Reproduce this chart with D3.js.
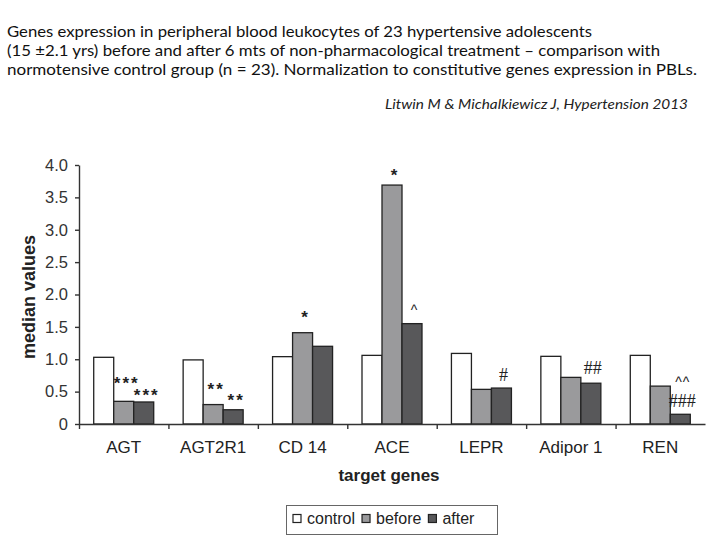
<!DOCTYPE html>
<html>
<head>
<meta charset="utf-8">
<script src="https://cdn.jsdelivr.net/npm/d3@7/dist/d3.min.js"></script>
<style>
  html, body { margin: 0; padding: 0; background: #fff; }
  svg { display: block; }
</style>
</head>
<body>
<svg id="chart" width="720" height="540"></svg>
<script>
// Gene expression medians
const genes = ['AGT', 'AGT2R1', 'CD 14', 'ACE', 'LEPR', 'Adipor 1', 'REN'];
const series = ['control', 'before', 'after'];
const control = [1.03, 0.99, 1.04, 1.06, 1.09, 1.045, 1.06];
const before = [0.35, 0.30, 1.41, 3.69, 0.535, 0.72, 0.585];
const after = [0.34, 0.22, 1.20, 1.55, 0.555, 0.63, 0.15];
const yTicks = [0, 0.5, 1.0, 1.5, 2.0, 2.5, 3.0, 3.5, 4.0];

// significance marks: gene, series, label, level (in chart units)
const marks = [
  ['AGT', 'before', '***', 0.69],
  ['AGT', 'after', '***', 0.51],
  ['AGT2R1', 'before', '**', 0.59],
  ['AGT2R1', 'after', '**', 0.42],
  ['CD 14', 'before', '*', 1.71],
  ['ACE', 'before', '*', 3.91],
  ['ACE', 'after', '^', 1.79],
  ['LEPR', 'after', '#', 0.76],
  ['Adipor 1', 'after', '##', 0.87],
  ['REN', 'after', '^^', 0.68],
  ['REN', 'after', '###', 0.35]
];

const titleLines = [
  'Genes expression in peripheral blood leukocytes of 23 hypertensive adolescents',
  '(15 \u00b12.1 yrs) before and after 6 mts of non-pharmacological treatment \u2013 comparison with',
  'normotensive control group (n = 23). Normalization to constitutive genes expression in PBLs.'
];
const citation = 'Litwin M & Michalkiewicz J, Hypertension 2013';

const rows = genes.map((g, i) => ({ gene: g, control: control[i], before: before[i], after: after[i] }));
const fills = { control: '#ffffff', before: '#9a9a9c', after: '#58585a' };

const svg = d3.select('#chart');

// Title block
const titleWidths = [585, 653, 690];
svg.append('g')
  .selectAll('text')
  .data(titleLines)
  .enter()
  .append('text')
  .attr('x', 7)
  .attr('y', (_, i) => 37 + i * 19)
  .attr('textLength', (_, i) => titleWidths[i])
  .attr('lengthAdjust', 'spacingAndGlyphs')
  .style('font-family', 'Lato, "Open Sans", sans-serif')
  .style('font-size', '16px')
  .style('fill', '#111')
  .text(d => d);

svg.append('text')
  .attr('x', 385)
  .attr('y', 109)
  .attr('textLength', 303)
  .attr('lengthAdjust', 'spacingAndGlyphs')
  .style('font-family', 'Lato, "Open Sans", sans-serif')
  .style('font-style', 'italic')
  .style('font-size', '14px')
  .style('fill', '#222')
  .text(citation);

// Scales
const plotLeft = 79, plotRight = 705, plotTop = 165, plotBottom = 424;
const x = d3.scaleBand().domain(genes).range([plotLeft, plotRight]);
const barW = 20;
const gap = (x.bandwidth() - barW * series.length) / 2;
const xSub = d3.scaleBand().domain(series).range([gap, x.bandwidth() - gap]);
const y = d3.scaleLinear().domain([0, 4]).range([plotBottom, plotTop]);
const xIdx = d3.scaleLinear().domain([0, genes.length]).range([plotLeft, plotRight]);

const font = '"Liberation Sans", Arial, sans-serif';

// Bars
const groups = svg.append('g')
  .selectAll('g')
  .data(rows)
  .enter()
  .append('g')
  .attr('transform', d => `translate(${x(d.gene)},0)`);

groups.selectAll('rect')
  .data(d => series.map(s => ({ key: s, value: d[s] })))
  .enter()
  .append('rect')
  .attr('x', d => xSub(d.key))
  .attr('y', d => y(d.value))
  .attr('width', xSub.bandwidth())
  .attr('height', d => plotBottom - y(d.value))
  .attr('fill', d => fills[d.key])
  .attr('stroke', '#222')
  .attr('stroke-width', 1.3);

// Axes
const yAxis = svg.append('g')
  .attr('transform', `translate(${plotLeft},0)`)
  .call(d3.axisLeft(y)
    .tickValues(yTicks)
    .tickSize(4)
    .tickSizeOuter(0)
    .tickFormat(d => d === 0 ? '0' : d3.format('.1f')(d)));
yAxis.selectAll('text')
  .attr('x', -11)
  .style('font-family', font)
  .style('font-size', '16.5px')
  .style('fill', '#333');

const xAxis = svg.append('g')
  .attr('transform', `translate(0,${plotBottom})`)
  .call(d3.axisBottom(xIdx)
    .tickValues(d3.range(genes.length))
    .tickSize(5)
    .tickSizeOuter(0)
    .tickFormat(''));

svg.selectAll('.domain, .tick line')
  .attr('stroke', '#333')
  .attr('stroke-width', 1.4);

// Category labels
svg.append('g')
  .selectAll('text')
  .data(genes)
  .enter()
  .append('text')
  .attr('x', d => x(d) + x.bandwidth() / 2)
  .attr('y', 453)
  .attr('text-anchor', 'middle')
  .style('font-family', font)
  .style('font-size', '17px')
  .style('fill', '#222')
  .text(d => d);

// Axis titles
svg.append('text')
  .attr('x', 389)
  .attr('y', 481)
  .attr('text-anchor', 'middle')
  .style('font-family', font)
  .style('font-weight', 'bold')
  .style('font-size', '17px')
  .style('fill', '#222')
  .text('target genes');

svg.append('text')
  .attr('transform', 'translate(35,297) rotate(-90)')
  .attr('text-anchor', 'middle')
  .style('font-family', font)
  .style('font-weight', 'bold')
  .style('font-size', '18px')
  .style('fill', '#222')
  .text('median values');

// Significance marks; baseline shifted so the glyph centre sits on the level
const markStyle = {
  '*': { size: 17, centre: 0.57, family: font, spacing: 2 },
  '^': { size: 14, centre: 0.52, family: font, spacing: 1 },
  '#': { size: 18, centre: 0.34, family: '"Liberation Serif", serif', spacing: 0 }
};
svg.append('g')
  .selectAll('text')
  .data(marks)
  .enter()
  .append('text')
  .each(function(d) {
    const st = markStyle[d[2][0]];
    d3.select(this)
      .attr('x', x(d[0]) + xSub(d[1]) + xSub.bandwidth() / 2 + 2 + st.spacing / 2)
      .attr('y', y(d[3]) + st.centre * st.size)
      .style('font-family', st.family)
      .style('font-size', st.size + 'px')
      .style('font-weight', d[2][0] === '*' ? 'bold' : 'normal')
      .style('letter-spacing', st.spacing + 'px');
  })
  .attr('text-anchor', 'middle')
  .style('fill', '#222')
  .text(d => d[2]);

// Legend
const legend = svg.append('g');
legend.append('rect')
  .attr('x', 286.5)
  .attr('y', 505.5)
  .attr('width', 211)
  .attr('height', 29)
  .attr('fill', '#fff')
  .attr('stroke', '#666')
  .attr('stroke-width', 1);

let lx = 293;
series.forEach(s => {
  legend.append('rect')
    .attr('x', lx)
    .attr('y', 514.5)
    .attr('width', 8)
    .attr('height', 8)
    .attr('fill', fills[s])
    .attr('stroke', '#222')
    .attr('stroke-width', 1.2);
  const t = legend.append('text')
    .attr('x', lx + 14)
    .attr('y', 524)
    .style('font-family', font)
    .style('font-size', '16px')
    .style('fill', '#222')
    .text(s);
  lx += 14 + t.node().getComputedTextLength() + 7;
});
</script>
</body>
</html>
